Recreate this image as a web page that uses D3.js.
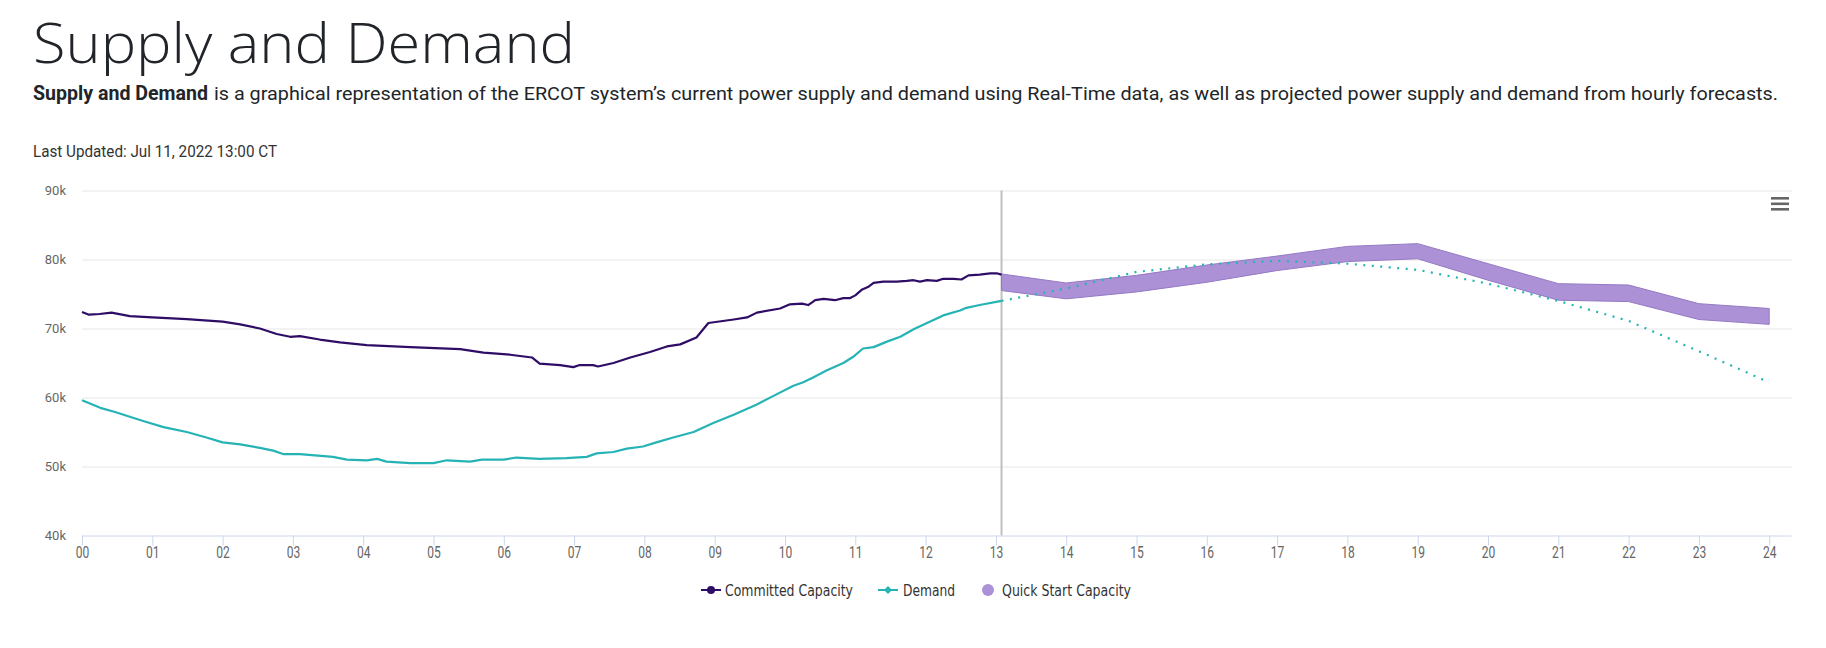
<!DOCTYPE html>
<html><head><meta charset="utf-8">
<script src="https://cdn.jsdelivr.net/npm/d3@7"></script>
<style>body{margin:0;background:#fff;} svg{display:block;}</style>
</head><body><svg id="c" width="1826" height="648"></svg>
<script>
// ---------- DATA ----------
const committedHours = [0,0.10,0.25,0.42,0.68,1.00,1.49,2.00,2.25,2.53,2.77,2.96,3.10,3.38,3.67,4.05,4.67,5.38,5.71,6.09,6.40,6.51,6.80,6.99,7.08,7.27,7.34,7.56,7.80,8.08,8.32,8.51,8.74,8.91,9.27,9.46,9.60,9.93,10.07,10.24,10.33,10.43,10.55,10.71,10.83,10.92,11.00,11.09,11.18,11.26,11.40,11.59,11.73,11.83,11.92,12.02,12.16,12.25,12.40,12.51,12.61,12.77,12.92,13.01,13.08];
const committedMW = [72400,72000,72100,72300,71800,71600,71350,71000,70600,70000,69200,68800,68900,68400,68000,67600,67300,67000,66500,66200,65800,64900,64700,64400,64700,64700,64500,65000,65800,66600,67400,67700,68700,70800,71300,71600,72300,72900,73500,73600,73400,74100,74300,74100,74400,74400,74800,75600,76000,76600,76800,76800,76900,77000,76800,77000,76900,77200,77200,77100,77700,77800,78000,78000,77800];

const demandHours = [0,0.26,0.47,0.68,0.87,1.16,1.49,1.77,2.00,2.25,2.53,2.72,2.86,3.10,3.57,3.77,4.05,4.20,4.33,4.67,5.00,5.19,5.52,5.69,6.00,6.18,6.51,6.89,7.18,7.32,7.56,7.75,7.98,8.17,8.41,8.70,8.98,9.27,9.60,9.83,10.12,10.26,10.40,10.59,10.83,10.97,11.11,11.26,11.45,11.64,11.83,12.02,12.25,12.49,12.58,12.77,13.08];
const demandMW = [59600,58500,57900,57200,56600,55700,55000,54200,53500,53200,52700,52300,51800,51800,51400,51000,50900,51100,50700,50500,50500,50900,50700,51000,51000,51300,51100,51200,51400,51900,52100,52600,52900,53500,54200,55000,56300,57500,59000,60200,61700,62200,62900,63900,65000,65900,67100,67300,68100,68800,69900,70800,71900,72600,73000,73400,74000];

const forecastHours = [13.08,14,15,16,17,18,19,20,21,22,23,24];
const forecastDemandMW = [74000,75800,78200,79300,79800,79400,78500,76500,74000,71100,66700,62200];
const quickStartLowMW  = [75500,74300,75300,76700,78400,79700,80100,77000,74100,73900,71300,70600];
const quickStartHighMW = [77900,76600,77700,79200,80500,81900,82300,79400,76500,76300,73600,72900];

const nowHour = 13.08;
const yTickValues = [40000,50000,60000,70000,80000,90000];
const yTickLabels = ["40k","50k","60k","70k","80k","90k"];
const xTickHours = [0,1,2,3,4,5,6,7,8,9,10,11,12,13,14,15,16,17,18,19,20,21,22,23,24];
const xTickLabels = ["00","01","02","03","04","05","06","07","08","09","10","11","12","13","14","15","16","17","18","19","20","21","22","23","24"];
const legendNames = ["Committed Capacity","Demand","Quick Start Capacity"];

// ---------- STYLE ----------
const C_COMMIT = "#2f0d66", C_DEMAND = "#26b3b5", C_QUICK = "#ac91d6", C_QUICK_EDGE = "#9479c4";
const svg = d3.select("#c");
svg.append("rect").attr("width",1826).attr("height",648).attr("fill","#fff");

function fitText(sel, len){ return sel.attr("textLength", len).attr("lengthAdjust","spacingAndGlyphs"); }

// Header
fitText(svg.append("text").attr("x",33).attr("y",63)
  .style("font-family","'Open Sans', Lato, sans-serif").style("font-weight",300).style("font-size","56px")
  .attr("fill","#212529").text("Supply and Demand"), 542);
fitText(svg.append("text").attr("x",33).attr("y",100)
  .style("font-family","Roboto, sans-serif").style("font-weight",700).style("font-size","20px")
  .attr("fill","#212529").text("Supply and Demand"), 175);
fitText(svg.append("text").attr("x",214).attr("y",100)
  .style("font-family","Roboto, sans-serif").style("font-weight",400).style("font-size","19px")
  .attr("fill","#212529").text("is a graphical representation of the ERCOT system\u2019s current power supply and demand using Real-Time data, as well as projected power supply and demand from hourly forecasts."), 1564);
fitText(svg.append("text").attr("x",33).attr("y",156.5)
  .style("font-family","Roboto, sans-serif").style("font-size","16px")
  .attr("fill","#333").text("Last Updated: Jul 11, 2022 13:00 CT"), 244);

// Scales
const plotLeft = 82, plotRight = 1791.7, plotTop = 190.5, plotBottom = 535.5;
const x = d3.scaleLinear().domain([0, 24]).range([plotLeft, 1769.2]);
const y = d3.scaleLinear().domain([40000, 90000]).range([plotBottom, plotTop]);

// Gridlines
const grid = svg.append("g").attr("transform",`translate(${plotLeft},0)`)
  .call(d3.axisLeft(y).tickValues(yTickValues.slice(1)).tickSize(-(plotRight-plotLeft)).tickFormat(""));
grid.select(".domain").remove();
grid.selectAll("line").attr("stroke","#e6e6e6");

// Y labels
const yAx = svg.append("g").attr("transform",`translate(${plotLeft},0)`)
  .call(d3.axisLeft(y).tickValues(yTickValues).tickSize(0).tickPadding(16).tickFormat((d,i)=>yTickLabels[i]));
yAx.select(".domain").remove();
yAx.selectAll("text").style("font-family","Roboto, sans-serif").style("font-size","13px").attr("fill","#666").attr("dy","0.32em");

// X axis
const xAx = svg.append("g").attr("transform",`translate(0,${plotBottom})`)
  .call(d3.axisBottom(x).tickValues(xTickHours).tickSize(10).tickFormat((d,i)=>xTickLabels[i]));
xAx.select(".domain").attr("d",`M${plotLeft},0.5H${plotRight}`).attr("stroke","#ccd6eb");
xAx.selectAll(".tick line").attr("stroke","#ccd6eb");
xAx.selectAll("text").attr("y",22.5).attr("dy",0).style("font-family","Roboto, sans-serif").style("font-size","16px")
  .attr("fill","#666").attr("textLength",13.5).attr("lengthAdjust","spacingAndGlyphs");

// Current-time line
svg.append("line").attr("x1",x(nowHour)).attr("x2",x(nowHour)).attr("y1",plotTop).attr("y2",plotBottom)
  .attr("stroke","#c0c0c0").attr("stroke-width",2);

// Quick start band
const idxF = forecastHours.map((d,i)=>i);
svg.append("path").datum(idxF)
  .attr("d", d3.area().x(i=>x(forecastHours[i])).y0(i=>y(quickStartLowMW[i])).y1(i=>y(quickStartHighMW[i])))
  .attr("fill",C_QUICK).attr("stroke",C_QUICK_EDGE).attr("stroke-width",1);

// Forecast demand dotted
svg.append("path").datum(idxF)
  .attr("d", d3.line().x(i=>x(forecastHours[i])).y(i=>y(forecastDemandMW[i])))
  .attr("fill","none").attr("stroke",C_DEMAND).attr("stroke-width",2.2).attr("stroke-dasharray","2,6.5");

// Committed capacity
svg.append("path").datum(committedHours.map((d,i)=>i))
  .attr("d", d3.line().x(i=>x(committedHours[i])).y(i=>y(committedMW[i])))
  .attr("fill","none").attr("stroke",C_COMMIT).attr("stroke-width",2.2).attr("stroke-linejoin","round");

// Demand
svg.append("path").datum(demandHours.map((d,i)=>i))
  .attr("d", d3.line().x(i=>x(demandHours[i])).y(i=>y(demandMW[i])))
  .attr("fill","none").attr("stroke",C_DEMAND).attr("stroke-width",2.2).attr("stroke-linejoin","round");

// Menu icon
const menuG = svg.append("g").attr("stroke","#666").attr("stroke-width",2.6);
[198.3,203.8,209.3].forEach(v=>menuG.append("line").attr("x1",1771).attr("x2",1789).attr("y1",v).attr("y2",v));

// Legend
const legY = 590, legBase = 595.5;
const lg = svg.append("g").style("font-family","'DejaVu Sans', sans-serif").style("font-size","15px").attr("fill","#333");
lg.append("line").attr("x1",701).attr("x2",721).attr("y1",legY).attr("y2",legY).attr("stroke",C_COMMIT).attr("stroke-width",2);
lg.append("circle").attr("cx",711).attr("cy",legY).attr("r",4).attr("fill",C_COMMIT);
fitText(lg.append("text").attr("x",725).attr("y",legBase).text(legendNames[0]), 128);
lg.append("line").attr("x1",878).attr("x2",898).attr("y1",legY).attr("y2",legY).attr("stroke",C_DEMAND).attr("stroke-width",2);
lg.append("path").attr("d",d3.symbol(d3.symbolDiamond2, 40)()).attr("transform",`translate(888,${legY})`).attr("fill",C_DEMAND);
fitText(lg.append("text").attr("x",903).attr("y",legBase).text(legendNames[1]), 52);
lg.append("circle").attr("cx",988).attr("cy",legY).attr("r",6).attr("fill",C_QUICK);
fitText(lg.append("text").attr("x",1002).attr("y",legBase).text(legendNames[2]), 129);
</script></body></html>
